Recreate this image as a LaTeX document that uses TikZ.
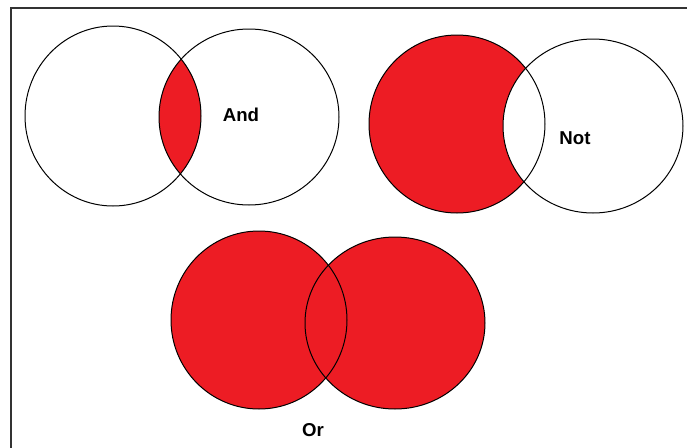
\documentclass[tikz,border=0pt]{standalone}
\usepackage{fontspec}
\setsansfont{Liberation Sans}
\usetikzlibrary{positioning}
\definecolor{paintred}{HTML}{ED1C24}

\begin{document}
\begin{tikzpicture}[
  x=0.0264cm, y=-0.0264cm,
  ring/.style={draw, line width=0.75pt},
  frame/.style={draw=black!80, line width=0.9pt},
  lbl/.style={font=\sffamily\bfseries\fontsize{14}{16}\selectfont, inner sep=0pt}
]
\useasboundingbox (0,0) rectangle (687,448);
\draw[frame] (11,448) -- (11,8) -- (687,8);

% And: only the overlap
\begin{scope}
  \clip (113,116) ellipse [x radius=88, y radius=90];
  \fill[paintred] (249,117) ellipse [x radius=90, y radius=88];
\end{scope}
\draw[ring] (113,116) ellipse [x radius=88, y radius=90];
\draw[ring] (249,117) ellipse [x radius=90, y radius=88];
\node[lbl] (andlbl) at (241,115) {And};

% Not: left without right
\fill[paintred] (457,124) ellipse [x radius=88, y radius=89];
\fill[white] (593,126) ellipse [x radius=90, y radius=87];
\draw[ring] (457,124) ellipse [x radius=88, y radius=89];
\draw[ring] (593,126) ellipse [x radius=90, y radius=87];
\node[lbl] (notlbl) at (575,138) {Not};

% Or: both
\fill[paintred] (259,320) ellipse [x radius=88, y radius=89];
\fill[paintred] (395,323) ellipse [x radius=90, y radius=86];
\draw[ring] (259,320) ellipse [x radius=88, y radius=89];
\draw[ring] (395,323) ellipse [x radius=90, y radius=86];
\node[lbl] (orlbl) at (313,430) {Or};
\end{tikzpicture}
\end{document}
